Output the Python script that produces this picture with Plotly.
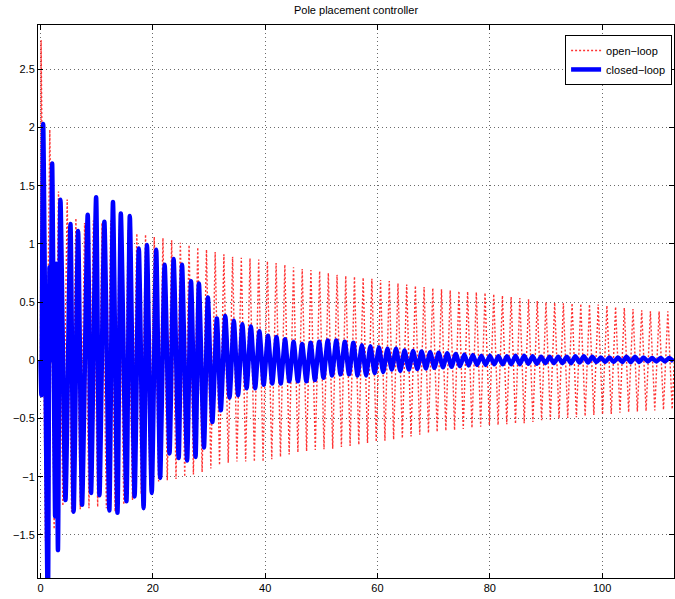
import plotly.graph_objects as go

# ---- data (extrema of each oscillation) ----
red_top_t = [0.1, 1.65, 3.2, 4.75, 6.3, 7.85, 9.4, 10.95, 12.5, 14.05, 15.6, 17.15, 18.7, 20.25,
             21.8, 23.35, 24.9, 26.45, 28.0, 29.55, 31.1, 32.65, 34.2, 35.75, 37.3, 38.85, 40.4,
             41.95, 43.5, 45.05, 46.6, 48.15, 49.7, 51.25, 52.8, 54.35, 55.9, 57.45, 59.0, 60.55,
             62.1, 63.65, 65.2, 66.75, 68.3, 69.85, 71.4, 72.95, 74.5, 76.05, 77.6, 79.15, 80.7,
             82.25, 83.8, 85.35, 86.9, 88.45, 90.0, 91.55, 93.1, 94.65, 96.2, 97.75, 99.3, 100.85,
             102.4, 103.95, 105.5, 107.05, 108.6, 110.15, 111.7, 113.25]
red_top_y = [2.75, 1.98, 1.45, 1.38, 1.22, 1.18, 1.2, 1.18, 1.2, 1.15, 1.12, 1.09, 1.08, 1.06,
             1.05, 1.03, 1.01, 0.99, 0.97, 0.95, 0.93, 0.91, 0.89, 0.88, 0.875, 0.865, 0.85,
             0.835, 0.82, 0.80, 0.785, 0.775, 0.765, 0.75, 0.735, 0.725, 0.72, 0.71, 0.70, 0.69,
             0.68, 0.66, 0.65, 0.64, 0.63, 0.62, 0.61, 0.60, 0.595, 0.59, 0.585, 0.58, 0.57,
             0.555, 0.545, 0.535, 0.525, 0.51, 0.50, 0.495, 0.49, 0.49, 0.485, 0.48, 0.48, 0.47,
             0.46, 0.45, 0.44, 0.43, 0.42, 0.42, 0.42, 0.41]
red_bot_t = [0.875, 2.425, 3.975, 5.525, 7.075, 8.625, 10.175, 11.725, 13.275, 14.825, 16.375,
             17.925, 19.475, 21.025, 22.575, 24.125, 25.675, 27.225, 28.775, 30.325, 31.875,
             33.425, 34.975, 36.525, 38.075, 39.625, 41.175, 42.725, 44.275, 45.825, 47.375,
             48.925, 50.475, 52.025, 53.575, 55.125, 56.675, 58.225, 59.775, 61.325, 62.875,
             64.425, 65.975, 67.525, 69.075, 70.625, 72.175, 73.725, 75.275, 76.825, 78.375,
             79.925, 81.475, 83.025, 84.575, 86.125, 87.675, 89.225, 90.775, 92.325, 93.875,
             95.425, 96.975, 98.525, 100.075, 101.625, 103.175, 104.725, 106.275, 107.825,
             109.375, 110.925, 112.475]
red_bot_y = [-1.55, -1.45, -1.25, -1.3, -1.28, -1.27, -1.26, -1.27, -1.3, -1.24, -1.2, -1.15,
             -1.08, -1.04, -1.03, -1.02, -1.0, -0.98, -0.96, -0.93, -0.9, -0.88, -0.87, -0.87,
             -0.87, -0.87, -0.85, -0.83, -0.81, -0.79, -0.78, -0.77, -0.765, -0.76, -0.745,
             -0.735, -0.725, -0.71, -0.70, -0.69, -0.68, -0.67, -0.655, -0.64, -0.625, -0.615,
             -0.605, -0.60, -0.59, -0.58, -0.57, -0.56, -0.555, -0.55, -0.545, -0.54, -0.53,
             -0.515, -0.51, -0.50, -0.495, -0.49, -0.48, -0.47, -0.465, -0.46, -0.45, -0.445,
             -0.44, -0.435, -0.43, -0.425, -0.42]

blue_top_t = [0.0, 0.47, 1.6, 2.07, 2.8, 3.55, 5.33, 6.69, 8.4, 9.9, 11.37, 12.9, 14.3, 15.9,
              17.5, 18.95, 20.6, 22.1, 23.7, 25.2, 26.8, 28.2, 29.8, 31.4, 32.9, 34.42, 35.94,
              37.46, 38.98, 40.5, 42.02, 43.54, 45.06, 46.58, 48.1, 49.62, 51.14, 52.66, 54.18,
              55.7, 57.22, 58.74, 60.26, 61.78, 63.3, 64.82, 66.34, 67.86, 69.38, 70.9, 72.42,
              73.94, 75.46, 76.98, 78.5, 80.02, 81.54, 83.06, 84.58, 86.1, 87.62, 89.14, 90.66,
              92.18, 93.7, 95.22, 96.74, 98.26, 99.78, 101.3, 102.82, 104.34, 105.86, 107.38,
              108.9, 110.42, 111.94]
blue_top_y = [0.0, 2.03, 0.8, 1.69, 0.83, 1.38, 1.17, 1.11, 1.25, 1.40, 1.19, 1.36, 1.26, 1.24,
              0.96, 0.99, 0.95, 0.82, 0.87, 0.82, 0.68, 0.66, 0.54, 0.36, 0.38, 0.34, 0.31,
              0.29, 0.25, 0.21, 0.20, 0.18, 0.16, 0.14, 0.15, 0.16, 0.17, 0.17, 0.16, 0.15,
              0.13, 0.12, 0.11, 0.10, 0.10, 0.085, 0.08, 0.075, 0.07, 0.065, 0.06, 0.055, 0.05,
              0.045, 0.04, 0.04, 0.035, 0.035, 0.04, 0.04, 0.035, 0.03, 0.03, 0.03, 0.03, 0.035,
              0.035, 0.03, 0.025, 0.025, 0.025, 0.03, 0.03, 0.025, 0.02, 0.02, 0.02]
blue_bot_t = [0.15, 1.3, 1.8, 2.6, 3.1, 4.44, 5.9, 7.4, 9.0, 10.5, 12.25, 13.7, 15.3, 16.75,
              18.35, 19.8, 21.3, 22.97, 24.6, 26.1, 27.6, 29.1, 30.6, 32.1, 33.66, 35.18, 36.7,
              38.22, 39.74, 41.26, 42.78, 44.3, 45.82, 47.34, 48.86, 50.38, 51.9, 53.42, 54.94,
              56.46, 57.98, 59.5, 61.02, 62.54, 64.06, 65.58, 67.1, 68.62, 70.14, 71.66, 73.18,
              74.7, 76.22, 77.74, 79.26, 80.78, 82.3, 83.82, 85.34, 86.86, 88.38, 89.9, 91.42,
              92.94, 94.46, 95.98, 97.5, 99.02, 100.54, 102.06, 103.58, 105.1, 106.62, 108.14,
              109.66, 111.18, 112.7]
blue_bot_y = [-0.3, -2.2, 0.0, -1.34, -1.63, -1.2, -1.3, -1.24, -1.14, -1.16, -1.29, -1.31,
              -1.21, -1.17, -1.27, -1.14, -1.01, -0.80, -0.84, -0.86, -0.83, -0.75, -0.53, -0.43,
              -0.32, -0.30, -0.24, -0.24, -0.21, -0.20, -0.20, -0.18, -0.18, -0.18, -0.17, -0.15,
              -0.13, -0.12, -0.12, -0.13, -0.13, -0.11, -0.10, -0.08, -0.09, -0.08, -0.075,
              -0.07, -0.065, -0.06, -0.055, -0.05, -0.045, -0.04, -0.04, -0.035, -0.035, -0.035,
              -0.035, -0.03, -0.03, -0.025, -0.025, -0.025, -0.025, -0.02, -0.02, -0.015, -0.015,
              -0.015, -0.015, -0.015, -0.015, -0.01, -0.01, -0.01, -0.01]

x_ticks = [0, 20, 40, 60, 80, 100]
y_ticks = [-1.5, -1, -0.5, 0, 0.5, 1, 1.5, 2, 2.5]

series_names = ["open\u2212loop", "closed\u2212loop"]
title_text = "Pole placement controller"


def merge(tt, ty, bt, by):
    pts = list(zip(tt, ty)) + list(zip(bt, by))
    pts.sort(key=lambda p: p[0])
    return [p[0] for p in pts], [p[1] for p in pts]


red_t, red_y = merge(red_top_t, red_top_y, red_bot_t, red_bot_y)
red_t = [0.0] + red_t
red_y = [0.0] + red_y
blue_t, blue_y = merge(blue_top_t, blue_top_y, blue_bot_t, blue_bot_y)

FONT = "Liberation Sans, Arial, Helvetica, sans-serif"

fig = go.Figure()
fig.add_trace(go.Scatter(
    x=red_t, y=red_y, mode="lines", name=series_names[0],
    line=dict(color="rgba(255,0,0,0.8)", width=1.4, dash="2px,2px"),
))
fig.add_trace(go.Scatter(
    x=blue_t, y=blue_y, mode="lines", name=series_names[1],
    line=dict(color="#0000ff", width=4.5, shape="spline", smoothing=0.6),
))

axis_common = dict(
    showline=True, linecolor="black", linewidth=1, mirror="ticks",
    ticks="inside", ticklen=5, tickcolor="black", tickwidth=1,
    showgrid=True, gridcolor="#6a6a6a", gridwidth=1, griddash="1px,3px",
    zeroline=False, tickfont=dict(family=FONT, size=11, color="black"),
)

fig.update_layout(
    width=675, height=599,
    margin=dict(l=38, r=1, t=25, b=21),
    paper_bgcolor="white", plot_bgcolor="white",
    font=dict(family=FONT, size=11, color="black"),
    title=dict(text=title_text, x=0.5, xref="paper", xanchor="center",
               y=1 - 10 / 599, yref="container", yanchor="middle",
               font=dict(family=FONT, size=11, color="black")),
    xaxis=dict(range=[-0.45, 112.8], tickvals=x_ticks, **axis_common),
    yaxis=dict(range=[-1.87, 2.88], tickvals=y_ticks, **axis_common),
    legend=dict(x=0.997, xanchor="right", y=0.982, yanchor="top",
                bgcolor="white", bordercolor="black", borderwidth=1,
                font=dict(family=FONT, size=11, color="black"),
                tracegroupgap=0, itemwidth=30),
    showlegend=True,
)

fig.write_html("out.html",
               config={"displayModeBar": False},
               post_script="document.body.style.margin='0';document.body.style.padding='0';")
